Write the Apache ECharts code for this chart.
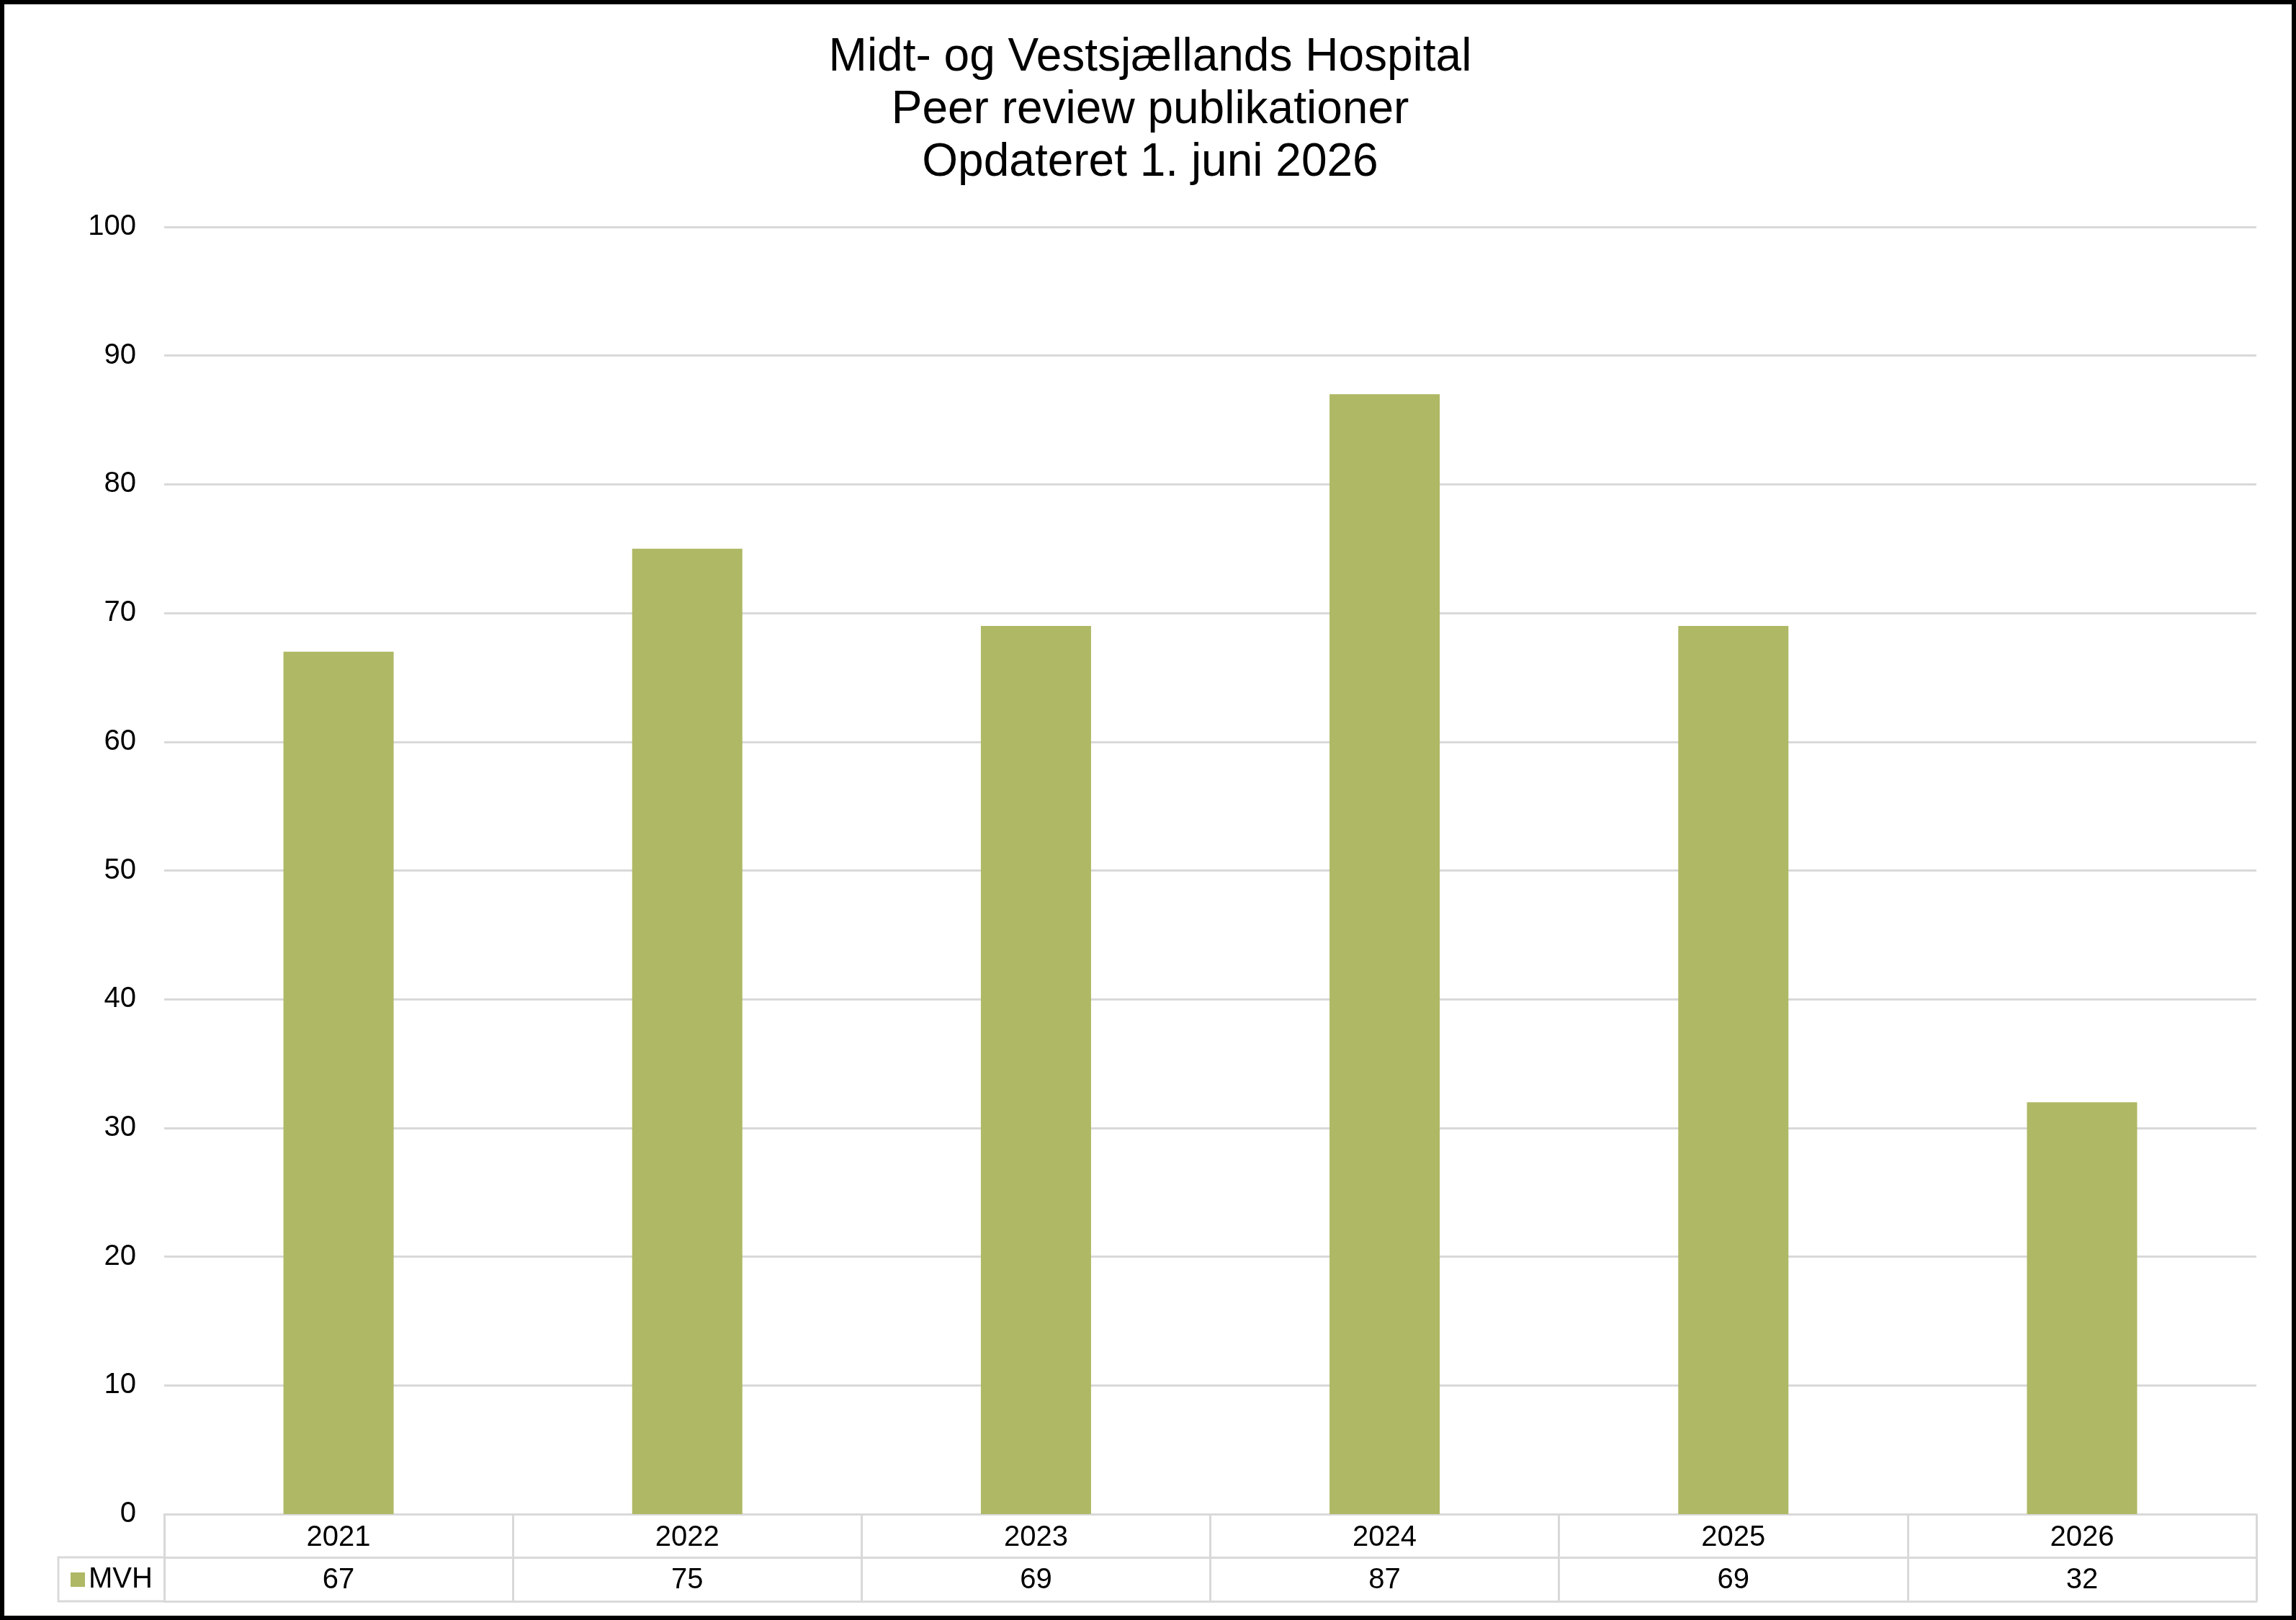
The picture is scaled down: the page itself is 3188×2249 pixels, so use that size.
<!DOCTYPE html>
<html>
<head>
<meta charset="utf-8">
<title>Peer review publikationer</title>
<script src="https://cdn.jsdelivr.net/npm/echarts@6/dist/echarts.min.js"></script>
<style>
  html, body { margin: 0; padding: 0; background: #fff; }
  #chart { width: 3188px; height: 2249px; }
</style>
</head>
<body>
<div id="chart"></div>
<script>
// data
const years = ['2021', '2022', '2023', '2024', '2025', '2026']
const mvh = [67, 75, 69, 87, 69, 32]
const seriesName = 'MVH'
const titleLines = ['Midt- og Vestsjællands Hospital', 'Peer review publikationer', 'Opdateret 1. juni 2026']

const font = 'Liberation Sans, Arial, sans-serif'
const gridColor = '#d9d9d9'
const barColor = '#AFB864'

const myChart = echarts.init(document.getElementById('chart'))

const option = {
  animation: false,
  backgroundColor: '#fff',
  textStyle: { fontFamily: font },
  title: {
    text: titleLines.join('\n'),
    left: 1592,
    top: 39,
    textAlign: 'center',
    textStyle: {
      fontFamily: font,
      fontSize: 64,
      fontWeight: 'normal',
      color: '#000',
      lineHeight: 73,
    },
  },
  legend: {
    left: 98,
    top: 2173,
    padding: 0,
    icon: 'rect',
    itemWidth: 20,
    itemHeight: 20,
    textStyle: { fontFamily: font, fontSize: 40, color: '#000' },
    data: [seriesName],
  },
  grid: { left: 228, right: 55, top: 315, bottom: 147 },
  xAxis: [
    {
      // table row: years
      type: 'category',
      data: years,
      position: 'bottom',
      axisLine: { show: true, lineStyle: { color: gridColor, width: 3 } },
      axisTick: { show: true, length: 121, lineStyle: { color: gridColor, width: 3 } },
      axisLabel: { fontFamily: font, fontSize: 40, color: '#000', margin: 13, lineHeight: 40 },
    },
    {
      // table row: values
      type: 'category',
      data: mvh.map(String),
      position: 'bottom',
      offset: 60,
      axisLine: { show: true, lineStyle: { color: gridColor, width: 3 } },
      axisTick: { show: false },
      axisLabel: { fontFamily: font, fontSize: 40, color: '#000', margin: 12, lineHeight: 40 },
    },
    {
      // table bottom border
      type: 'category',
      data: years,
      position: 'bottom',
      offset: 121,
      axisLine: { show: true, lineStyle: { color: gridColor, width: 3 } },
      axisTick: { show: false },
      axisLabel: { show: false },
    },
  ],
  yAxis: {
    type: 'value',
    min: 0,
    max: 100,
    interval: 10,
    axisLine: { show: false },
    axisTick: { show: false },
    axisLabel: { fontFamily: font, fontSize: 40, color: '#000', margin: 39 },
    splitLine: { lineStyle: { color: gridColor, width: 3 } },
  },
  series: [
    {
      name: seriesName,
      type: 'bar',
      xAxisIndex: 0,
      data: mvh,
      barWidth: '31.6%',
      itemStyle: { color: barColor },
    },
  ],
  graphic: [
    // legend cell of the data table
    {
      type: 'polyline',
      shape: { points: [[228, 2162], [81, 2162], [81, 2223], [228, 2223]] },
      style: { fill: null, stroke: gridColor, lineWidth: 3 },
      z: 1,
    },
    // outer frame
    {
      type: 'rect',
      shape: { x: 3, y: 3, width: 3182, height: 2243 },
      style: { fill: null, stroke: '#000', lineWidth: 6 },
      z: 10,
    },
  ],
}

myChart.setOption(option)
</script>
</body>
</html>
